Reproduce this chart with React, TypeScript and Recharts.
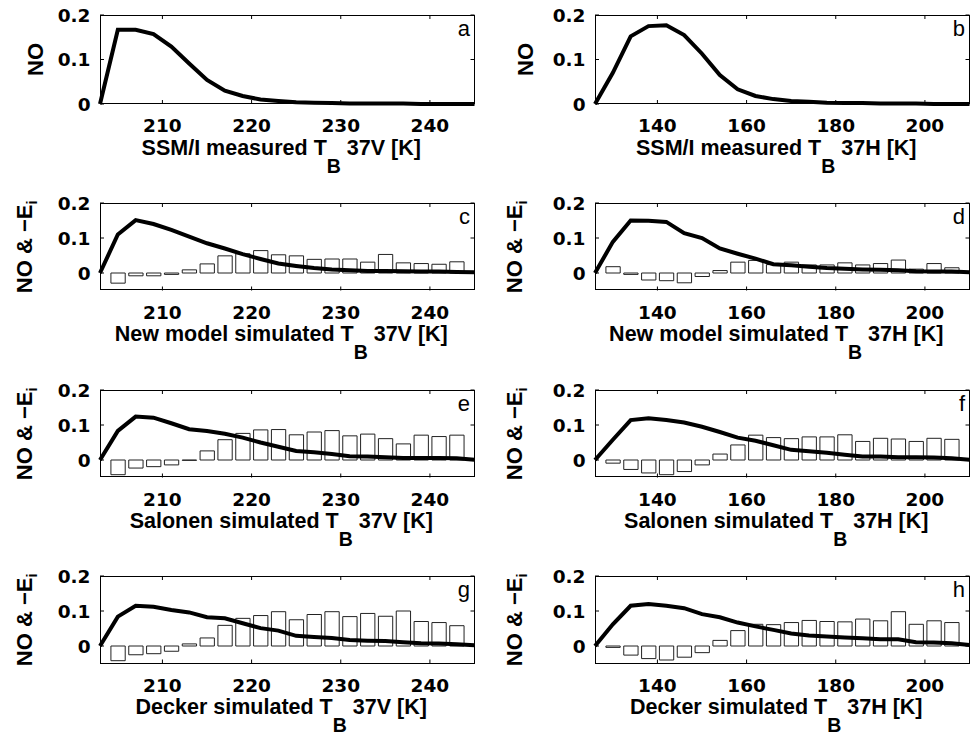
import React from 'react'
import { ComposedChart, Bar, Line, XAxis, YAxis } from 'recharts'

// brightness temperature bins [K]
const vTemps = [203, 205, 207, 209, 211, 213, 215, 217, 219, 221, 223, 225, 227, 229, 231, 233, 235, 237, 239, 241, 243, 245]
const hTemps = [126, 130, 134, 138, 142, 146, 150, 154, 158, 162, 166, 170, 174, 178, 182, 186, 190, 194, 198, 202, 206, 210]
const vTicks = [210, 220, 230, 240]
const hTicks = [140, 160, 180, 200]
const yTicks = [0, 0.1, 0.2]

// normalized occurrence (NO) curves
const noMeasuredV = [0, 0.167, 0.167, 0.157, 0.129, 0.091, 0.054, 0.03, 0.018, 0.01, 0.007, 0.004, 0.003, 0.002, 0.001, 0.001, 0.001, 0.001, 0, 0, 0, 0]
const noMeasuredH = [0, 0.07, 0.152, 0.175, 0.177, 0.155, 0.113, 0.065, 0.033, 0.018, 0.011, 0.007, 0.005, 0.003, 0.002, 0.002, 0.001, 0.001, 0.001, 0, 0, 0]
const noNewV = [0, 0.11, 0.151, 0.14, 0.123, 0.104, 0.085, 0.07, 0.054, 0.04, 0.027, 0.02, 0.014, 0.01, 0.008, 0.006, 0.006, 0.005, 0.004, 0.004, 0.003, 0.002]
const noNewH = [0, 0.089, 0.15, 0.149, 0.146, 0.114, 0.1, 0.07, 0.055, 0.041, 0.025, 0.022, 0.018, 0.014, 0.012, 0.01, 0.009, 0.008, 0.005, 0.004, 0.004, 0.002]
const noSalonenV = [0, 0.083, 0.124, 0.121, 0.105, 0.088, 0.083, 0.075, 0.064, 0.05, 0.038, 0.026, 0.022, 0.017, 0.011, 0.01, 0.008, 0.006, 0.006, 0.006, 0.005, 0.001]
const noSalonenH = [0, 0.058, 0.114, 0.119, 0.114, 0.107, 0.095, 0.08, 0.064, 0.055, 0.042, 0.029, 0.025, 0.021, 0.015, 0.01, 0.01, 0.008, 0.008, 0.007, 0.005, 0.001]
const noDeckerV = [0, 0.084, 0.115, 0.112, 0.103, 0.096, 0.082, 0.079, 0.065, 0.051, 0.044, 0.029, 0.026, 0.023, 0.017, 0.015, 0.014, 0.011, 0.008, 0.007, 0.005, 0.002]
const noDeckerH = [0, 0.062, 0.115, 0.12, 0.115, 0.108, 0.091, 0.082, 0.067, 0.056, 0.046, 0.036, 0.03, 0.027, 0.024, 0.022, 0.019, 0.019, 0.011, 0.01, 0.008, 0.003]

// -E_i bars
const errNewV = [null, -0.029, -0.008, -0.008, -0.004, 0.009, 0.026, 0.049, 0.055, 0.064, 0.052, 0.049, 0.039, 0.04, 0.04, 0.031, 0.053, 0.029, 0.027, 0.025, 0.032, null]
const errNewH = [null, 0.018, -0.004, -0.02, -0.022, -0.028, -0.01, 0.007, 0.031, 0.036, 0.024, 0.031, 0.023, 0.023, 0.029, 0.023, 0.027, 0.037, 0.011, 0.027, 0.015, null]
const errSalonenV = [null, -0.042, -0.023, -0.019, -0.014, -0.001, 0.026, 0.058, 0.076, 0.086, 0.087, 0.072, 0.08, 0.084, 0.069, 0.074, 0.061, 0.046, 0.071, 0.067, 0.071, null]
const errSalonenH = [null, -0.009, -0.027, -0.037, -0.042, -0.033, -0.014, 0.017, 0.043, 0.071, 0.064, 0.061, 0.066, 0.066, 0.072, 0.053, 0.062, 0.06, 0.053, 0.062, 0.059, null]
const errDeckerV = [null, -0.042, -0.025, -0.022, -0.015, 0.006, 0.023, 0.059, 0.079, 0.087, 0.098, 0.075, 0.09, 0.098, 0.084, 0.093, 0.085, 0.1, 0.07, 0.067, 0.058, null]
const errDeckerH = [null, -0.004, -0.026, -0.036, -0.04, -0.032, -0.019, 0.016, 0.044, 0.062, 0.061, 0.067, 0.073, 0.07, 0.069, 0.077, 0.072, 0.098, 0.062, 0.072, 0.067, null]

const panels = [
  { letter: 'a', row: 0, col: 0, source: 'SSM/I measured', channel: '37V', no: noMeasuredV, err: null },
  { letter: 'b', row: 0, col: 1, source: 'SSM/I measured', channel: '37H', no: noMeasuredH, err: null },
  { letter: 'c', row: 1, col: 0, source: 'New model simulated', channel: '37V', no: noNewV, err: errNewV },
  { letter: 'd', row: 1, col: 1, source: 'New model simulated', channel: '37H', no: noNewH, err: errNewH },
  { letter: 'e', row: 2, col: 0, source: 'Salonen simulated', channel: '37V', no: noSalonenV, err: errSalonenV },
  { letter: 'f', row: 2, col: 1, source: 'Salonen simulated', channel: '37H', no: noSalonenH, err: errSalonenH },
  { letter: 'g', row: 3, col: 0, source: 'Decker simulated', channel: '37V', no: noDeckerV, err: errDeckerV },
  { letter: 'h', row: 3, col: 1, source: 'Decker simulated', channel: '37H', no: noDeckerH, err: errDeckerH },
]

const SANS = '"Liberation Sans", Arial, Helvetica, sans-serif'
const TICKFONT = '"DejaVu Sans", Verdana, sans-serif'
const PLOT_W = 374.5
const CHART_W = 489
const ROW_TOPS = [15, 202.5, 389.5, 576]

function Panel({ p }: { p: any }) {
  const isV = p.col === 0
  const temps = isV ? vTemps : hTemps
  const plotLeft = isV ? 100 : 107
  const plotTop = ROW_TOPS[p.row]
  const plotH = p.row === 0 ? 89 : 87.5
  const chartH = 15 + plotH + 83
  const data = temps.map((t, i) => ({ t, no: p.no[i], err: p.err ? p.err[i] : null }))
  const yLabelOff = p.row === 0 ? (isV ? -57 : -62) : (isV ? -68.5 : -73)

  const xTick = (tp: any) => (
    <g>
      <line x1={tp.x} x2={tp.x} y1={tp.y} y2={tp.y - 4} stroke="#000" />
      <line x1={tp.x} x2={tp.x} y1={tp.y - plotH} y2={tp.y - plotH + 4} stroke="#000" />
      <text x={tp.x} y={tp.y + 28} textAnchor="middle" fontFamily={TICKFONT} fontWeight="bold" fontSize={18.5} fill="#000">
        {tp.payload.value}
      </text>
    </g>
  )

  const yTick = (tp: any) => (
    <g>
      <line x1={tp.x} x2={tp.x + 4} y1={tp.y} y2={tp.y} stroke="#000" />
      <line x1={tp.x + PLOT_W} x2={tp.x + PLOT_W - 4} y1={tp.y} y2={tp.y} stroke="#000" />
      <text x={tp.x - 9.5} y={tp.y} dy="0.36em" textAnchor="end" fontFamily={TICKFONT} fontWeight="bold" fontSize={18.5} fill="#000">
        {String(tp.payload.value)}
      </text>
    </g>
  )

  const xLabel = (lp: any) => {
    const vb = lp.viewBox
    const cx = vb.x + vb.width / 2 - 6
    const by = vb.y + 50.5
    return (
      <text x={cx} y={by} textAnchor="middle" fontFamily={SANS} fontWeight="bold" fontSize={21.5} fill="#000">
        {p.source + ' T'}
        <tspan dy={18} fontSize={19.5}>B</tspan>
        <tspan dy={-18}>{' ' + p.channel + ' [K]'}</tspan>
      </text>
    )
  }

  const yLabel = (lp: any) => {
    const vb = lp.viewBox
    const bx = vb.x + vb.width + yLabelOff
    const cy = vb.y + vb.height / 2
    return (
      <text transform={`rotate(-90 ${bx} ${cy})`} x={bx} y={cy} textAnchor="middle" fontFamily={SANS} fontWeight="bold" fontSize={22} fill="#000">
        {p.row === 0 ? 'NO' : 'NO & \u2212E'}
        {p.row === 0 ? null : <tspan dy={5} fontSize={15}>i</tspan>}
      </text>
    )
  }

  return (
    <div style={{ position: 'absolute', left: isV ? 0 : 488, top: plotTop - 15, width: CHART_W, height: chartH }}>
      <ComposedChart
        width={CHART_W}
        height={chartH}
        data={data}
        margin={{ top: 15, right: CHART_W - plotLeft - PLOT_W, bottom: 0, left: 0 }}
      >
        <XAxis
          dataKey="t"
          type="number"
          domain={isV ? [203, 245] : [126, 210]}
          ticks={isV ? vTicks : hTicks}
          interval={0}
          axisLine={false}
          tickLine={false}
          tickSize={0}
          tickMargin={0}
          height={83}
          tick={xTick}
          label={{ content: xLabel }}
        />
        <YAxis
          type="number"
          domain={p.row === 0 ? [0, 0.2] : [-0.05, 0.2]}
          ticks={yTicks}
          interval={0}
          axisLine={false}
          tickLine={false}
          tickSize={0}
          tickMargin={0}
          width={plotLeft}
          tick={yTick}
          label={{ content: yLabel }}
        />
        {p.err && (
          <Bar dataKey="err" barSize={14.3} fill="#fff" stroke="#222" strokeWidth={1} isAnimationActive={false} />
        )}
        <Line dataKey="no" type="linear" stroke="#000" strokeWidth={4} dot={false} isAnimationActive={false} />
      </ComposedChart>
      <div
        style={{
          position: 'absolute',
          left: plotLeft,
          top: 15,
          width: PLOT_W,
          height: plotH,
          border: '1px solid #000',
          boxSizing: 'border-box',
          pointerEvents: 'none',
        }}
      >
        <span
          style={{
            position: 'absolute',
            right: 3.5,
            top: 2.4,
            fontFamily: SANS,
            fontSize: 22,
            lineHeight: '22px',
            color: '#000',
          }}
        >
          {p.letter}
        </span>
      </div>
    </div>
  )
}

export default function App() {
  return (
    <div style={{ position: 'absolute', left: 0, top: 0, width: 977, height: 740, background: '#fff' }}>
      {panels.map((p) => (
        <Panel key={p.letter} p={p} />
      ))}
    </div>
  )
}
